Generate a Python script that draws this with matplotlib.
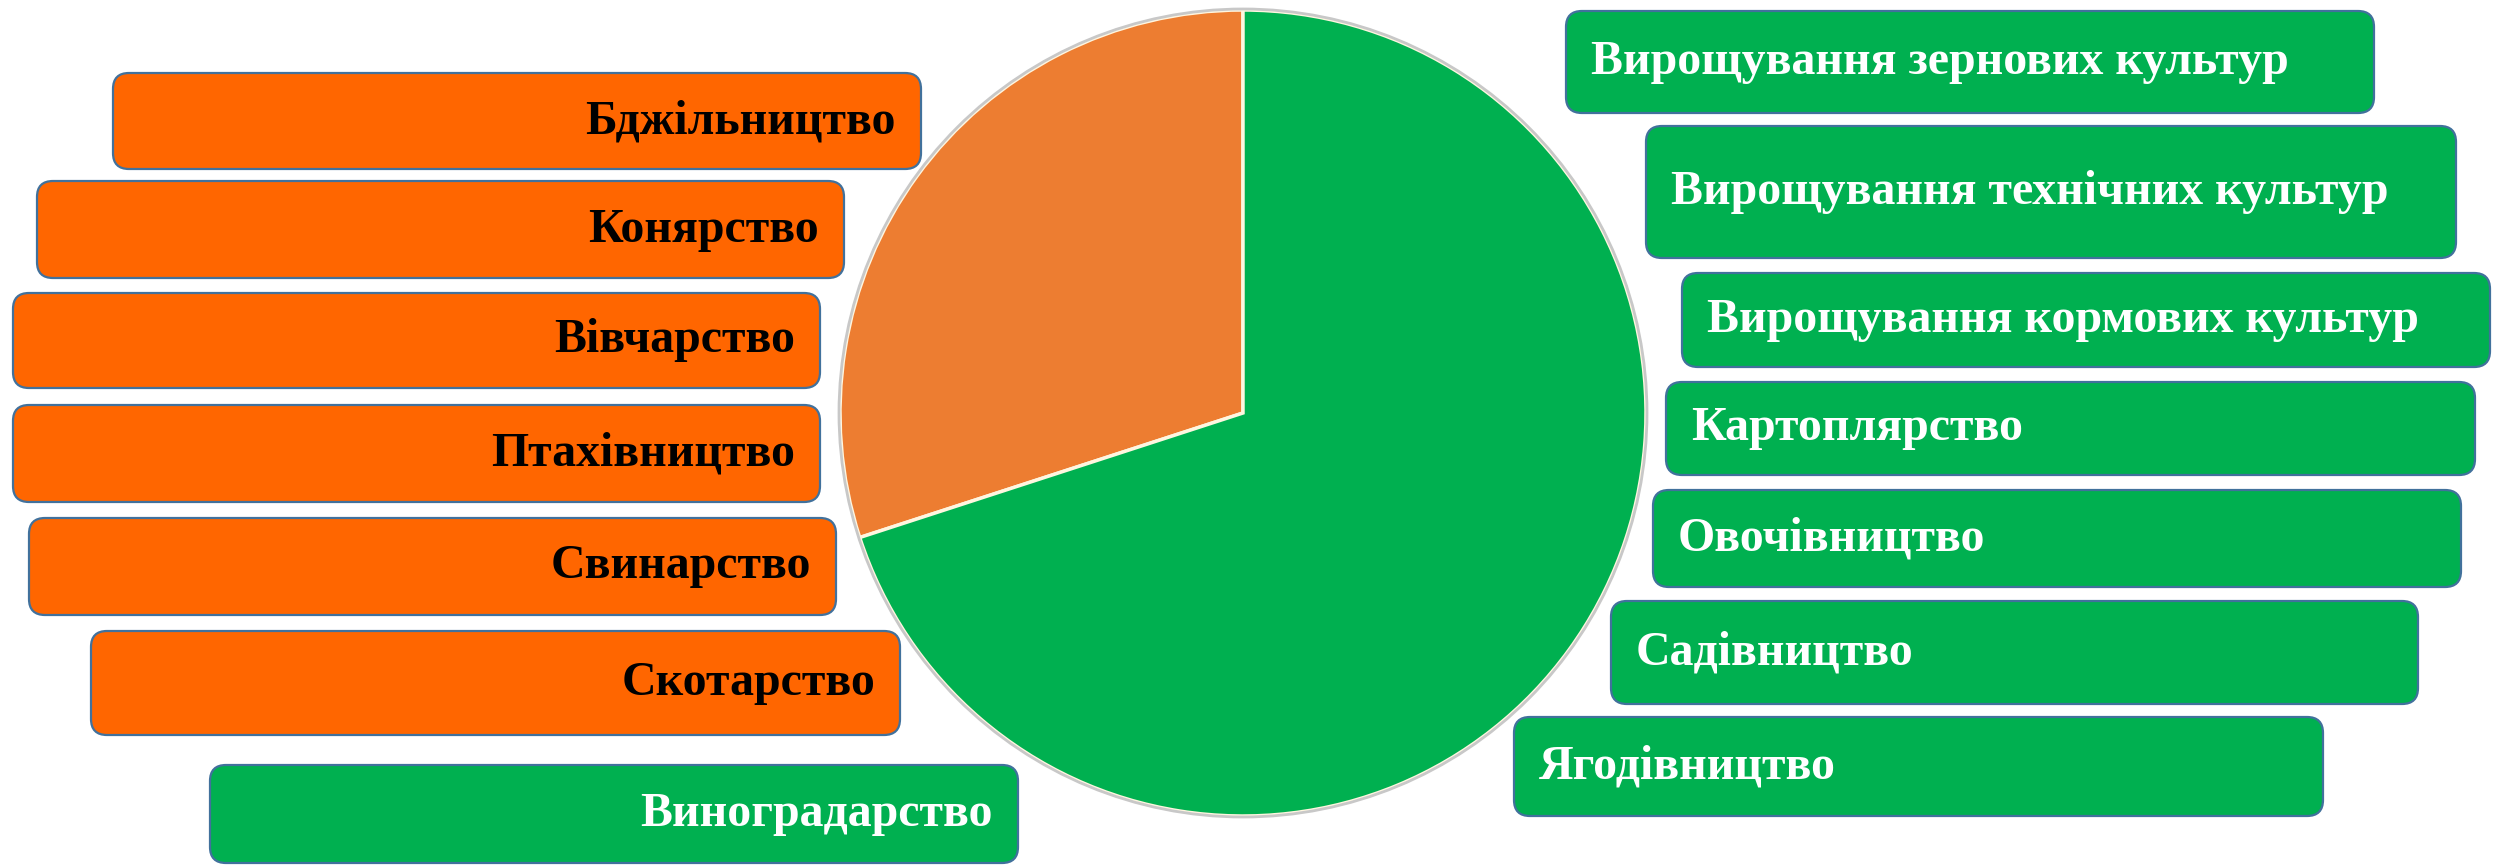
import matplotlib.pyplot as plt
from matplotlib.patches import FancyBboxPatch, Circle

# дані
sectors = ["Тваринництво", "Рослинництво"]
shares = [30, 70]
livestock = ["Бджільництво", "Конярство", "Вівчарство", "Птахівництво",
             "Свинарство", "Скотарство"]
crops_left = ["Виноградарство"]
crops_right = ["Вирощування зернових культур", "Вирощування технічних культур",
               "Вирощування кормових культур", "Картоплярство", "Овочівництво",
               "Садівництво", "Ягодівництво"]

# розміщення блоків (x0, x1, y0, y1 у пікселях зображення, y згори)
left_boxes = [(113, 921, 73, 169), (37, 844, 181, 278), (13, 820, 293, 388),
              (13, 820, 405, 502), (29, 836, 518, 615), (91, 900, 631, 735)]
vino_box = (210, 1018, 765, 863)
right_boxes = [(1566, 2374, 11, 113), (1646, 2456, 126, 258), (1682, 2490, 273, 367),
               (1666, 2475, 382, 475), (1653, 2461, 490, 587), (1611, 2418, 601, 704),
               (1514, 2323, 717, 816)]

W, H = 2493, 865
ORANGE_PIE = "#ED7D31"
GREEN = "#00B050"
ORANGE_BOX = "#FF6600"
EDGE = "#41719C"
FONT = dict(family="Liberation Serif", weight="bold", fontsize=34.5)

fig = plt.figure(figsize=(W / 100, H / 100), dpi=100)
ax = fig.add_axes([0, 0, 1, 1])

ax.pie(shares, colors=[ORANGE_PIE, GREEN], startangle=90, counterclock=True,
       center=(1243, H - 413), radius=403,
       wedgeprops=dict(edgecolor="#FFF6E0", linewidth=2.5))
ax.add_patch(Circle((1243, H - 413), 404, fill=False, edgecolor="#C8C8C8", lw=2))


def box(b, color, label, txtcolor, align):
    x0, x1, y0, y1 = b
    ax.add_patch(FancyBboxPatch((x0, H - y1), x1 - x0, y1 - y0,
                                boxstyle="round,pad=0,rounding_size=16",
                                facecolor=color, edgecolor=EDGE, lw=1.6))
    ym = H - (y0 + y1) / 2
    if align == "right":
        ax.text(x1 - 25, ym, label, ha="right", va="center", color=txtcolor, **FONT)
    else:
        ax.text(x0 + 25, ym, label, ha="left", va="center", color=txtcolor, **FONT)


for b, lab in zip(left_boxes, livestock):
    box(b, ORANGE_BOX, lab, "black", "right")
box(vino_box, GREEN, crops_left[0], "white", "right")
for b, lab in zip(right_boxes, crops_right):
    box(b, GREEN, lab, "white", "left")

ax.set_xlim(0, W)
ax.set_ylim(0, H)
ax.set_aspect("equal")
ax.axis("off")
fig.savefig("out.png", dpi=100)
